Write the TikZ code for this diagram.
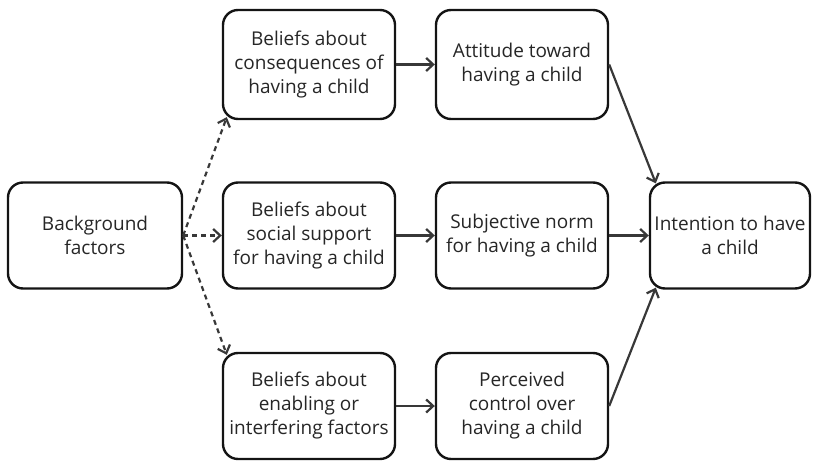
\documentclass[tikz,border=0pt]{standalone}
\usepackage{fontspec}
\setmainfont{Open Sans}
\usetikzlibrary{arrows.meta,calc}
\tikzset{
  box/.style={draw=black!92, line width=2.4pt, rounded corners=15pt, align=center,
    font=\fontsize{19}{24}\selectfont, text=black!85, inner sep=0pt},
  conn/.style={draw=black!78, line width=2.2pt, -{Straight Barb[length=7pt,width=13pt,line width=2.2pt]}},
  dconn/.style={conn, dash pattern=on 5pt off 4pt},
}
\begin{document}
\begin{tikzpicture}[x=1pt,y=1pt]
\useasboundingbox (0,0) rectangle (818,461);
\node[box, minimum width=174pt, minimum height=106pt] (bg) at (95,225.5) {Background\\factors};
\node[box, minimum width=172pt, minimum height=109pt] (b1) at (309,396.5) {Beliefs about\\consequences of\\having a child};
\node[box, minimum width=172pt, minimum height=109pt] (att) at (522,396.5) {Attitude toward\\having a child};
\node[box, minimum width=172pt, minimum height=106pt] (b2) at (309,225.5) {Beliefs about\\social support\\for having a child};
\node[box, minimum width=172pt, minimum height=106pt] (sn) at (522,225.5) {Subjective norm\\for having a child};
\node[box, minimum width=160pt, minimum height=106pt] (int) at (730,225.5) {Intention to have\\a child};
\node[box, minimum width=172pt, minimum height=106pt] (b3) at (309,55) {Beliefs about\\enabling or\\interfering factors};
\node[box, minimum width=172pt, minimum height=106pt] (pc) at (522,55) {Perceived\\control over\\having a child};

\draw[conn] (b1.east) -- (att.west);
\draw[conn] (b2.east) -- (sn.west);
\draw[conn] (b3.east) -- (pc.west);
\draw[conn] (sn.east) -- (int.west);
\draw[conn] (att.east) -- ($(int.north west)+(7,-2)$);
\draw[conn] (pc.east) -- ($(int.south west)+(7,2)$);
\draw[dconn] (bg.east) -- ($(b1.south west)+(5,3)$);
\draw[dconn] (bg.east) -- (b2.west);
\draw[dconn] (bg.east) -- ($(b3.north west)+(5,-3)$);
\end{tikzpicture}
\end{document}
